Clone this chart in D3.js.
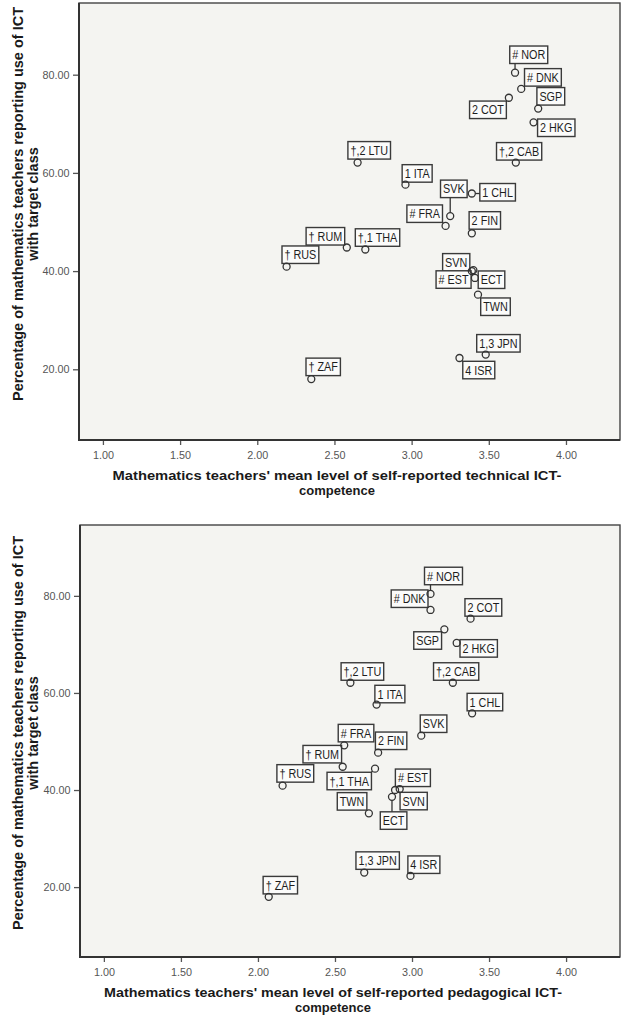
<!DOCTYPE html>
<html>
<head>
<meta charset="utf-8">
<script src="https://cdn.jsdelivr.net/npm/d3@7"></script>
<style>
  body { margin: 0; background: #ffffff; }
  svg { display: block; }
  text { font-family: "Liberation Sans", Arial, sans-serif; }
</style>
</head>
<body>
<svg id="chart" width="623" height="1016"></svg>
<script>
// Countries (with TIMSS-style footnote markers) and their values
const countries = ["# NOR", "# DNK", "2 COT", "SGP", "2 HKG", "†,2 CAB", "†,2 LTU", "1 ITA",
  "SVK", "# FRA", "1 CHL", "2 FIN", "† RUM", "†,1 THA", "† RUS", "SVN", "# EST", "ECT",
  "TWN", "† ZAF", "1,3 JPN", "4 ISR"];

// Percentage of mathematics teachers reporting use of ICT with target class
const ictUsePct = [80.4, 77.1, 75.3, 73.1, 70.3, 62.1, 62.1, 57.6,
  51.2, 49.2, 55.8, 47.7, 44.8, 44.4, 40.9, 40.0, 40.2, 38.6,
  35.2, 18.0, 23.0, 22.3];

// Mean self-reported technical ICT competence
const technicalCompetence = [3.67, 3.71, 3.63, 3.82, 3.79, 3.675, 2.65, 2.96,
  3.25, 3.22, 3.39, 3.39, 2.58, 2.70, 2.19, 3.39, 3.40, 3.41,
  3.43, 2.35, 3.48, 3.31];

// Mean self-reported pedagogical ICT competence
const pedagogicalCompetence = [3.12, 3.12, 3.38, 3.21, 3.29, 3.265, 2.60, 2.77,
  3.06, 2.56, 3.39, 2.78, 2.55, 2.76, 2.16, 2.89, 2.92, 2.87,
  2.72, 2.07, 2.69, 2.99];

const xTickValues = [1.0, 1.5, 2.0, 2.5, 3.0, 3.5, 4.0];
const yTickValues = [20, 40, 60, 80];
const xDomain = [0.845, 4.35];
const yDomain = [5.6, 94.6];

const yTitleLines = ["Percentage of mathematics teachers reporting use of ICT", "with target class"];
const technicalTitleLines = ["Mathematics teachers' mean level of self-reported technical ICT-", "competence"];
const pedagogicalTitleLines = ["Mathematics teachers' mean level of self-reported pedagogical ICT-", "competence"];

// Label box placement: top-left corner of each box relative to its marker (px)
const technicalLabelOffsets = [[-5.3, -26.7], [3.3, -20.3], [-39.3, 3.3], [-1.3, -21], [4, -3.3],
  [-19.3, -20], [-9.7, -21], [-3.3, -20], [-9.7, -36], [-38.7, -21], [8, -10], [-2.7, -21.6],
  [-40.7, -20], [-10, -20.7], [-4.6, -20.7], [-29.2, -17.5], [-37.3, 0.7], [3.3, -7],
  [2.7, 3.3], [-5.3, -21], [-9, -20], [3.3, 3.3]];
const pedagogicalLabelOffsets = [[-6, -26.7], [-39.3, -20], [-5.6, -20], [-30.6, 2.4], [3.3, -3.3],
  [-19.3, -20], [-9.3, -20], [-1.7, -19.3], [-1, -20.7], [-6, -21], [-5, -20], [-2.7, -20.6],
  [-39.7, -21.3], [-48, 3.6], [-5.7, -21], [5, 2.3], [-4.3, -20], [-11.7, 15],
  [-31.6, -20.7], [-5.6, -20.4], [-8.3, -20.7], [-2.6, -20]];

const panels = [
  { left: 79, right: 620, top: 3, bottom: 440, xs: technicalCompetence,
    offsets: technicalLabelOffsets, xTitle: technicalTitleLines, xTitleCx: 337, yTitleCy: 204,
    xTitleLen: 449 },
  { left: 80, right: 620, top: 525, bottom: 957, xs: pedagogicalCompetence,
    offsets: pedagogicalLabelOffsets, xTitle: pedagogicalTitleLines, xTitleCx: 333, yTitleCy: 733,
    xTitleLen: 458 }
];

const svg = d3.select("#chart");
const ink = "#333333";
const markerR = 3.5;
const textScaleX = 0.8;

panels.forEach(p => {
  const x = d3.scaleLinear().domain(xDomain).range([p.left, p.right]);
  const y = d3.scaleLinear().domain(yDomain).range([p.bottom, p.top]);
  const g = svg.append("g");

  // plot area
  g.append("rect")
    .attr("x", p.left).attr("y", p.top)
    .attr("width", p.right - p.left).attr("height", p.bottom - p.top)
    .attr("fill", "#f4f4f1");

  // axes
  const xAxis = g.append("g")
    .attr("transform", `translate(0,${p.bottom})`)
    .call(d3.axisBottom(x).tickValues(xTickValues).tickFormat(d3.format(".2f")).tickSize(5).tickSizeOuter(0));
  const yAxis = g.append("g")
    .attr("transform", `translate(${p.left},0)`)
    .call(d3.axisLeft(y).tickValues(yTickValues).tickFormat(d3.format(".2f")).tickSize(6).tickSizeOuter(0));
  [xAxis, yAxis].forEach(a => {
    a.select(".domain").remove();
    a.selectAll(".tick line").attr("stroke", "#555").attr("stroke-width", 1.3);
    a.selectAll(".tick text").attr("fill", "#555").attr("font-size", 10.8)
      .attr("font-family", "'Liberation Sans', Arial, sans-serif");
  });
  xAxis.selectAll(".tick text").attr("dy", null).attr("y", 18.5);
  yAxis.selectAll(".tick text").attr("x", -9.5);

  // frame (left and bottom darker, like the axis lines)
  g.append("rect")
    .attr("x", p.left).attr("y", p.top)
    .attr("width", p.right - p.left).attr("height", p.bottom - p.top)
    .attr("fill", "none").attr("stroke", "#444").attr("stroke-width", 1.4);
  g.append("path")
    .attr("d", `M${p.left},${p.top}V${p.bottom}H${p.right}`)
    .attr("fill", "none").attr("stroke", "#333").attr("stroke-width", 2);

  // x title
  p.xTitle.forEach((line, i) => {
    const t = g.append("text")
      .attr("x", p.xTitleCx).attr("y", p.bottom + 40 + i * 14.5)
      .attr("text-anchor", "middle").attr("font-weight", "bold").attr("font-size", 13)
      .attr("fill", "#1a1a1a").text(line);
    if (i === 0) t.attr("textLength", p.xTitleLen).attr("lengthAdjust", "spacingAndGlyphs");
  });

  // y title
  yTitleLines.forEach((line, i) => {
    g.append("text")
      .attr("transform", `translate(${23 + i * 15},${p.yTitleCy}) rotate(-90)`)
      .attr("text-anchor", "middle").attr("font-weight", "bold").attr("font-size", 14.5)
      .attr("fill", "#1a1a1a").text(line);
  });

  // points and labels
  const pts = countries.map((c, i) => ({ name: c, cx: x(p.xs[i]), cy: y(ictUsePct[i]), off: p.offsets[i] }));

  const labels = g.append("g");
  pts.forEach(d => {
    const bx = d.cx + d.off[0], by = d.cy + d.off[1];
    const lg = labels.append("g");
    const t = lg.append("text")
      .attr("transform", `translate(${bx + 2.5},${by + 13.3}) scale(${textScaleX},1)`)
      .attr("font-size", 13.5).attr("fill", "#1e1e1e").text(d.name);
    const w = t.node().getComputedTextLength() * textScaleX + 5;
    const h = 17.5;
    lg.insert("rect", "text")
      .attr("x", bx).attr("y", by).attr("width", w).attr("height", h)
      .attr("fill", "#fbfbfa").attr("stroke", "#3a3a3a").attr("stroke-width", 1.4);
    // leader line from marker to nearest point of its box
    const nx = Math.max(bx, Math.min(d.cx, bx + w));
    const ny = Math.max(by, Math.min(d.cy, by + h));
    const dist = Math.hypot(nx - d.cx, ny - d.cy);
    if (dist > markerR + 0.8) {
      const ux = (nx - d.cx) / dist, uy = (ny - d.cy) / dist;
      lg.append("line")
        .attr("x1", d.cx + ux * markerR).attr("y1", d.cy + uy * markerR)
        .attr("x2", nx).attr("y2", ny)
        .attr("stroke", ink).attr("stroke-width", 1.3);
    }
  });

  g.append("g").selectAll("circle").data(pts).join("circle")
    .attr("cx", d => d.cx).attr("cy", d => d.cy).attr("r", markerR)
    .attr("fill", "none").attr("stroke", ink).attr("stroke-width", 1.3);
});
</script>
</body>
</html>
